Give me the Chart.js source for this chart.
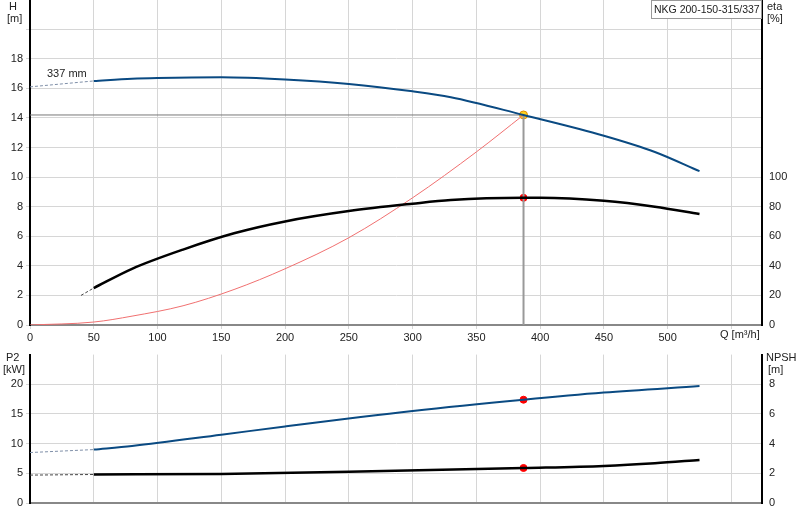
<!DOCTYPE html>
<html><head><meta charset="utf-8">
<script src="https://cdn.jsdelivr.net/npm/chart.js@4"></script>
<style>
body{margin:0;background:#fff;width:800px;height:520px;position:relative;overflow:hidden;font-family:Arial,"Liberation Sans",sans-serif}
#c1w{position:absolute;left:0;top:-10px;width:800px;height:355px}
#c2w{position:absolute;left:0;top:345px;width:800px;height:175px}
</style></head><body>
<div id="c1w"><canvas id="c1"></canvas></div>
<div id="c2w"><canvas id="c2"></canvas></div>
<script>
const hQ=[50,80,100,150,200,250,300,330,387,450,490,525];
const hV=[16.5,16.65,16.7,16.75,16.6,16.3,15.8,15.4,14.2,12.8,11.7,10.4];
const hExtQ=[0,50], hExtV=[16.1,16.5];
const etaQ=[50,80,120,160,200,250,300,330,387,400,450,490,525];
const etaV=[25,38,51,62,70,77,82,84.5,86,86,84,80,75];
const etaExtQ=[40,50], etaExtV=[20,25];
const sysQ=[0,50,80,120,160,200,250,300,350,387];
const sysV=[0,0.2,0.6,1.3,2.4,3.8,5.9,8.6,11.7,14.2];
const opQ=387, opH=14.2, opEta=86, opP2=17.4, opNPSH=2.36;
const p2Q=[50,80,150,200,300,387,450,525];
const p2V=[9,9.6,11.5,12.9,15.5,17.4,18.6,19.7];
const p2ExtQ=[0,50], p2ExtV=[8.5,9];
const npQ=[50,150,250,387,450,490,525];
const npV=[1.92,1.96,2.1,2.36,2.5,2.68,2.9];
const npExtQ=[0,50], npExtV=[1.88,1.92];
const xTicks=[0,50,100,150,200,250,300,350,400,450,500,550];

const pts=(q,v)=>q.map((x,i)=>({x,y:v[i]}));
const F='Arial, "Liberation Sans", sans-serif';
const blue='#0a4a82';
function xs(show){return {type:'linear',min:0,max:574,
  afterBuildTicks:a=>{a.ticks=xTicks.map(v=>({value:v}))},
  ticks:{display:show,color:'#222',font:{size:11,family:F},padding:2,maxRotation:0,autoSkip:false,callback:v=>v>500?'':v},
  grid:{color:'#d6d6d6',drawTicks:show,tickLength:4},border:{color:'#888',width:2},
  afterFit:a=>{a.height=show?20:17}};}
function ys(min,max,ticks,pos,w,gridOn,lblFilter){return {type:'linear',position:pos,min,max,
  afterBuildTicks:a=>{a.ticks=ticks.map(v=>({value:v}))},
  ticks:{color:'#222',font:{size:11,family:F},padding:3,autoSkip:false,callback:lblFilter||(v=>v)},
  grid:{display:gridOn,color:'#d6d6d6',tickLength:4,drawTicks:true},border:{color:'#000',width:2},
  afterFit:a=>{a.width=w}};}
const txt={id:'txt',afterDraw(c,a,o){const x=c.ctx;const d=o.dy||0;x.save();x.fillStyle='#222';x.font='11px '+F;
  (o.items||[]).forEach(t=>{x.textAlign=t.al||'left';x.fillText(t.s,t.x,t.y+d)});
  if(o.box){x.strokeStyle='#999';x.lineWidth=1;x.fillStyle='#fff';x.fillRect(651.5,0.5+d,110,18);x.strokeRect(651.5,0.5+d,110,18);x.fillStyle='#222';x.textAlign='left';x.font='10.5px '+F;x.fillText('NKG 200-150-315/337',654,13+d);}
  x.restore();}};
const line=(data,col,w,extra)=>Object.assign({data,borderColor:col,borderWidth:w,pointRadius:0,cubicInterpolationMode:'monotone',fill:false},extra||{});
const dash=(data,col)=>({data,borderColor:col,borderWidth:1,borderDash:[3,2],pointRadius:0,fill:false});

new Chart(document.getElementById('c1'),{type:'line',
 data:{datasets:[
  line(pts(hQ,hV),blue,2,{yAxisID:'y'}),
  dash(pts(hExtQ,hExtV),'#7f8fa8'),
  Object.assign(line(pts(etaQ,etaV),'#000',2.5),{yAxisID:'y2'}),
  Object.assign(dash(pts(etaExtQ,etaExtV),'#444'),{yAxisID:'y2'}),
  line(pts(sysQ,sysV),'#f07070',1,{yAxisID:'y'}),
  {data:[{x:0,y:opH},{x:opQ,y:opH}],borderColor:'#777',borderWidth:1,pointRadius:0,tension:0},
  {data:[{x:opQ,y:opH},{x:opQ,y:0}],borderColor:'#999',borderWidth:2,pointRadius:0,tension:0},
  {data:[{x:opQ,y:opH}],pointRadius:4,pointBackgroundColor:'#ffd21f',pointBorderColor:'#e08a00',showLine:false},
  {data:[{x:opQ,y:opEta}],yAxisID:'y2',pointRadius:3.5,pointBackgroundColor:'#f00',pointBorderColor:'#f00',showLine:false}
 ]},
 options:{responsive:true,maintainAspectRatio:false,animation:false,
  layout:{padding:{top:0,bottom:0,left:0,right:0}},
  plugins:{legend:{display:false},tooltip:{enabled:false},
   txt:{box:true,dy:10,items:[{s:'H',x:9,y:10},{s:'[m]',x:7,y:22},{s:'eta',x:767,y:10},{s:'[%]',x:767,y:22},{s:'337 mm',x:47,y:77},{s:'Q [m³/h]',x:720,y:338}]}},
  scales:{x:xs(true),
   y:ys(0,22,[0,2,4,6,8,10,12,14,16,18,20],'left',30,true,v=>v>18?'':v),
   y2:ys(0,220,[0,20,40,60,80,100],'right',38,false)}},
 plugins:[txt]});

new Chart(document.getElementById('c2'),{type:'line',
 data:{datasets:[
  line(pts(p2Q,p2V),blue,2,{yAxisID:'y'}),
  dash(pts(p2ExtQ,p2ExtV),'#7f8fa8'),
  Object.assign(line(pts(npQ,npV),'#000',2.5),{yAxisID:'y2'}),
  Object.assign(dash(pts(npExtQ,npExtV),'#444'),{yAxisID:'y2'}),
  {data:[{x:opQ,y:opP2}],pointRadius:3.5,pointBackgroundColor:'#f00',pointBorderColor:'#f00',showLine:false},
  {data:[{x:opQ,y:opNPSH}],yAxisID:'y2',pointRadius:3.5,pointBackgroundColor:'#f00',pointBorderColor:'#f00',showLine:false}
 ]},
 options:{responsive:true,maintainAspectRatio:false,animation:false,
  layout:{padding:{top:2,bottom:0}},
  plugins:{legend:{display:false},tooltip:{enabled:false},
   txt:{items:[{s:'P2',x:6,y:16},{s:'[kW]',x:3,y:28},{s:'NPSH',x:766,y:16},{s:'[m]',x:768,y:28}]}},
  scales:{x:xs(false),
   y:ys(0,25,[0,5,10,15,20],'left',30,true),
   y2:ys(0,10,[0,2,4,6,8],'right',38,false)}},
 plugins:[txt]});
</script></body></html>
